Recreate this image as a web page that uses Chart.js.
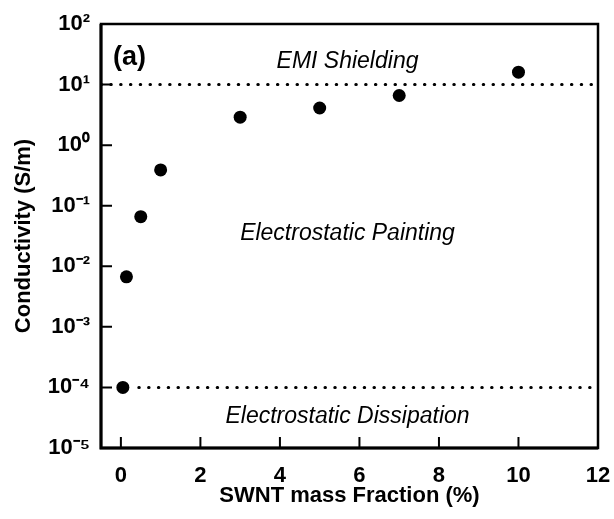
<!DOCTYPE html>
<html>
<head>
<meta charset="utf-8">
<script src="https://cdn.jsdelivr.net/npm/chart.js@4.4.1/dist/chart.umd.min.js"></script>
<style>
  html, body { margin: 0; padding: 0; background: #fff; }
  #wrap { width: 614px; height: 519px; }
</style>
</head>
<body>
<div id="wrap"><canvas id="myChart"></canvas></div>
<script>
// SWNT loading vs conductivity
const massFraction = [0.05, 0.14, 0.5, 1, 3, 5, 7, 10];
const conductivity = [1.0e-4, 6.7e-3, 0.066, 0.39, 2.9, 4.1, 6.6, 16];

const xTicks = [0, 2, 4, 6, 8, 10, 12];
const yTicks = [1e-5, 1e-4, 1e-3, 1e-2, 1e-1, 1e0, 1e1, 1e2];
const yTickLabels = ['10⁻⁵', '10⁻⁴', '10⁻³', '10⁻²', '10⁻¹', '10⁰', '10¹', '10²'];

const emiLimit = 10;
const dissipationLimit = 1e-4;

const regionNames = ['EMI Shielding', 'Electrostatic Painting', 'Electrostatic Dissipation'];
const panelLabel = '(a)';

const FONT = "'Liberation Sans', Arial, Helvetica, sans-serif";

const framePlugin = {
    id: 'frame',
    afterDatasetsDraw(chart) {
        const { ctx, chartArea: a, scales: { x, y } } = chart;
        ctx.save();
        ctx.strokeStyle = '#000';
        ctx.lineWidth = 2.5;
        ctx.strokeRect(a.left, a.top, a.right - a.left, a.bottom - a.top);
        // left and bottom axes a bit heavier
        ctx.lineWidth = 3;
        ctx.beginPath();
        ctx.moveTo(a.left, a.top);
        ctx.lineTo(a.left, a.bottom);
        ctx.lineTo(a.right, a.bottom);
        ctx.stroke();

        // inward tick marks
        ctx.lineWidth = 2;
        ctx.beginPath();
        yTicks.forEach(v => {
            const py = y.getPixelForValue(v);
            ctx.moveTo(a.left, py);
            ctx.lineTo(a.left + 11, py);
        });
        xTicks.forEach(v => {
            const px = x.getPixelForValue(v);
            ctx.moveTo(px, a.bottom);
            ctx.lineTo(px, a.bottom - 11);
        });
        ctx.stroke();

        // panel label
        ctx.fillStyle = '#000';
        ctx.font = 'bold 27px ' + FONT;
        ctx.textAlign = 'left';
        ctx.textBaseline = 'alphabetic';
        ctx.fillText(panelLabel, a.left + 12, a.top + 41);

        // region names
        ctx.font = 'italic 23px ' + FONT;
        ctx.textAlign = 'center';
        const spots = [[5.7, 19], [5.7, 0.0275], [5.7, 2.6e-5]];
        regionNames.forEach((t, i) => {
            ctx.fillText(t, x.getPixelForValue(spots[i][0]), y.getPixelForValue(spots[i][1]));
        });
        ctx.restore();
    }
};

const ctx = document.getElementById('myChart');

new Chart(ctx, {
    type: 'scatter',
    data: {
        datasets: [
            {
                type: 'line',
                data: [{ x: -0.5, y: emiLimit }, { x: 12, y: emiLimit }],
                borderColor: '#000',
                borderWidth: 3,
                borderDash: [0.5, 9.3],
                borderCapStyle: 'round',
                pointRadius: 0,
                fill: false
            },
            {
                type: 'line',
                data: [{ x: 0.45, y: dissipationLimit }, { x: 12, y: dissipationLimit }],
                borderColor: '#000',
                borderWidth: 3,
                borderDash: [0.5, 9.3],
                borderCapStyle: 'round',
                pointRadius: 0,
                fill: false
            },
            {
                label: 'Conductivity',
                data: massFraction.map((m, i) => ({ x: m, y: conductivity[i] })),
                backgroundColor: '#000',
                borderWidth: 0,
                pointRadius: 6.5,
                pointHoverRadius: 6.5
            }
        ]
    },
    options: {
        responsive: true,
        maintainAspectRatio: false,
        animation: false,
        layout: { padding: { top: 24, right: 16, left: 0, bottom: 0 } },
        plugins: {
            legend: { display: false },
            tooltip: { enabled: false }
        },
        scales: {
            x: {
                type: 'linear',
                min: -0.5,
                max: 12,
                grid: { display: false, drawTicks: false },
                border: { display: false },
                afterBuildTicks: s => { s.ticks = xTicks.map(v => ({ value: v })); },
                afterFit: s => { s.height = 71; s.paddingLeft = 0; s.paddingRight = 0; },
                ticks: {
                    color: '#000',
                    padding: 15,
                    font: { family: FONT, size: 22, weight: 'bold' }
                },
                title: {
                    display: true,
                    text: 'SWNT mass Fraction (%)',
                    color: '#000',
                    padding: { top: 0, bottom: 10 },
                    font: { family: FONT, size: 22, weight: 'bold' }
                }
            },
            y: {
                type: 'logarithmic',
                min: 1e-5,
                max: 1e2,
                grid: { display: false, drawTicks: false },
                border: { display: false },
                afterBuildTicks: s => { s.ticks = yTicks.map(v => ({ value: v })); },
                afterFit: s => { s.width = 101; s.paddingTop = 0; s.paddingBottom = 0; },
                ticks: {
                    color: '#000',
                    padding: 11,
                    crossAlign: 'near',
                    font: { family: FONT, size: 22, weight: 'bold' },
                    callback: (v, i) => yTickLabels[i]
                },
                title: {
                    display: true,
                    text: 'Conductivity (S/m)',
                    color: '#000',
                    padding: { top: 11, bottom: 0 },
                    font: { family: FONT, size: 22, weight: 'bold' }
                }
            }
        }
    },
    plugins: [framePlugin]
});
</script>
</body>
</html>
